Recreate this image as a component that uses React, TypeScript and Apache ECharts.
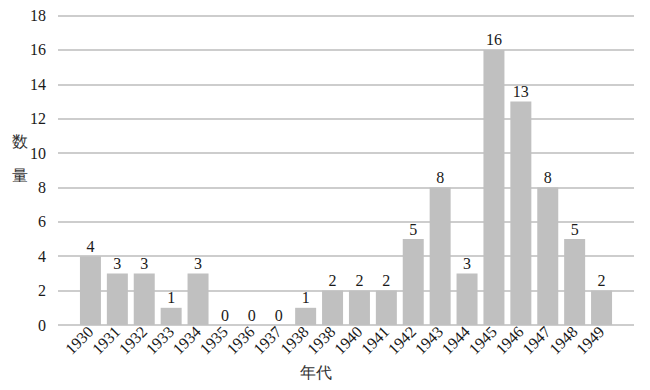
import React, { useEffect, useRef } from "react";
import * as echarts from "echarts";

const categories = ["1930","1931","1932","1933","1934","1935","1936","1937","1938","1938","1940","1941","1942","1943","1944","1945","1946","1947","1948","1949"];
const values = [4,3,3,1,3,0,0,0,1,2,2,2,5,8,3,16,13,8,5,2];
const yTicks = { min: 0, max: 18, interval: 2 };
const xName = "年代";
const yName = "数\n量";

const serif = "Liberation Serif";

export default function App() {
  const ref = useRef<HTMLDivElement>(null);
  useEffect(() => {
    if (!ref.current) return;
    const chart = echarts.init(ref.current, undefined, { renderer: "svg" });
    chart.setOption({
      animation: false,
      backgroundColor: "#ffffff",
      grid: [
        { left: 58, right: 16, top: 15.5, bottom: 65 },
        { left: 77, right: 35, top: 15.5, bottom: 65 },
      ],
      xAxis: [
        { type: "category", gridIndex: 0, data: categories, show: false },
        {
          type: "category",
          gridIndex: 1,
          data: categories,
          axisLine: { show: false },
          axisTick: { show: false },
          axisLabel: { rotate: 45, interval: 0, margin: 4, fontFamily: serif, fontSize: 16, color: "#1a1a1a" },
        },
      ],
      yAxis: [
        {
          type: "value",
          gridIndex: 0,
          min: yTicks.min,
          max: yTicks.max,
          interval: yTicks.interval,
          axisLine: { show: false },
          axisTick: { show: false },
          axisLabel: { margin: 12, fontFamily: serif, fontSize: 16, color: "#1a1a1a" },
          splitLine: { lineStyle: { color: "#bdbdbd", width: 1.5 } },
        },
        { type: "value", gridIndex: 1, min: yTicks.min, max: yTicks.max, interval: yTicks.interval, show: false },
      ],
      series: [
        {
          type: "bar",
          xAxisIndex: 1,
          yAxisIndex: 1,
          data: values,
          barWidth: 21,
          itemStyle: { color: "#c0c0c0" },
          label: { show: true, position: "top", distance: 2, fontFamily: serif, fontSize: 16, color: "#1a1a1a" },
        },
      ],
      graphic: [
        { type: "text", left: 300, top: 364, style: { text: xName, fontFamily: "serif", fontSize: 16, fill: "#333" } },
        { type: "text", left: 12, top: 124, style: { text: yName, fontFamily: "serif", fontSize: 16, fill: "#333", lineHeight: 34 } },
      ],
    });
    return () => chart.dispose();
  }, []);
  return <div ref={ref} style={{ width: 650, height: 390, margin: -8 }} />;
}
